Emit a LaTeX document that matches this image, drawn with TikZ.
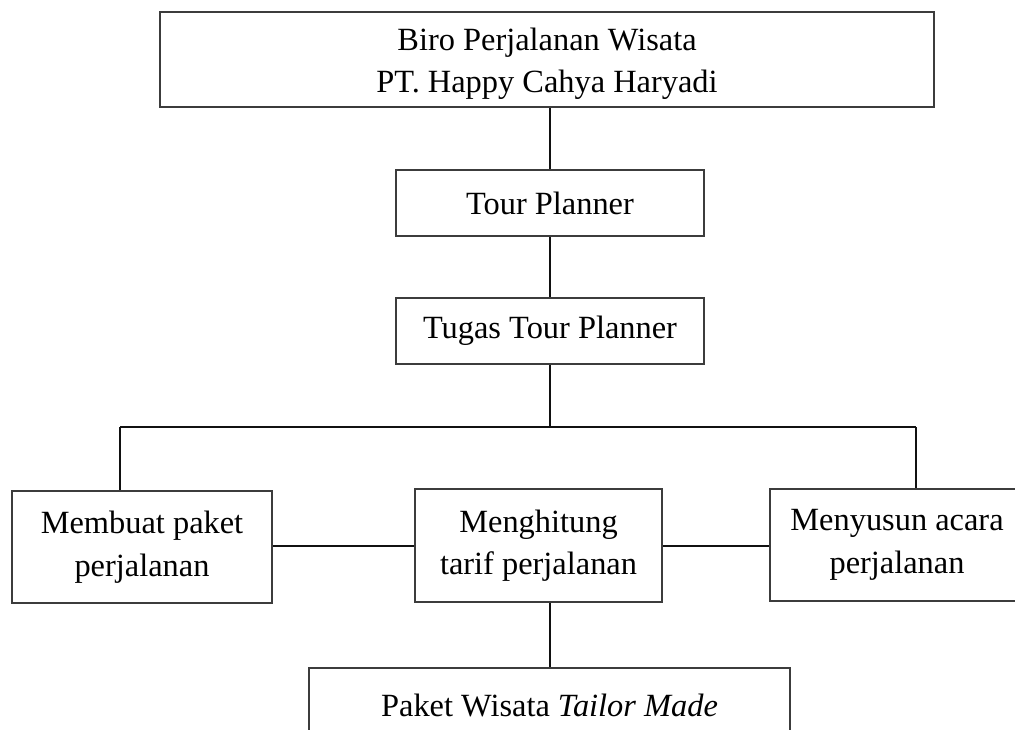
\documentclass[tikz,border=0pt]{standalone}
\usepackage{fontspec}
\setmainfont{Liberation Serif}
\usepackage{tikz}
\usepackage{xcolor}
\usetikzlibrary{positioning,calc}
\definecolor{edge}{HTML}{3C3C3C}
\definecolor{wire}{HTML}{111111}

\begin{document}
\begin{tikzpicture}[x=0.5pt,y=-0.5pt,font=\fontsize{16.2}{21.2}\selectfont,
  box/.style={draw=edge,line width=1pt,align=center,inner sep=0pt},
  w/.style={draw=wire,line width=1pt}]

  \clip (0,0) rectangle (1015,729);

  % top of the chart
  \node[box,minimum width=387pt,minimum height=47.5pt] (biro) at (547,59.5)
    {\rule{0pt}{15.5pt}Biro Perjalanan Wisata\\PT. Happy Cahya Haryadi};
  \node[box,minimum width=154pt,minimum height=33pt] (tp) at (550,203) {Tour Planner};
  \node[box,minimum width=154pt,minimum height=33pt] (tugas) at (550,331) {Tugas Tour Planner};

  % tasks
  \node[box,minimum width=130pt,minimum height=56pt] (buat) at (142,547)
    {Membuat paket\\perjalanan};
  \node[box,minimum width=123.5pt,minimum height=56.5pt] (hitung) at (538.5,545.5)
    {Menghitung\\tarif perjalanan};
  \node[box,minimum width=127pt,minimum height=56pt] (susun) at (897,545)
    {Menyusun acara\\perjalanan};

  % result
  \node[box,minimum width=240.5pt,minimum height=37pt] (paket) at (549.5,705)
    {Paket Wisata \textit{Tailor Made}};

  \coordinate (busL) at (120,427);
  \coordinate (busR) at (916,427);

  \draw[w] (tp.north) -- (tp.north|-biro.south);
  \draw[w] (tp.south) -- (tugas.north);
  \draw[w] (tugas.south) -- (tugas.south|-busL);
  \draw[w] (busL) -- (busR);
  \draw[w] (busL) -- (busL|-buat.north);
  \draw[w] (busR) -- (busR|-susun.north);
  \draw[w] (hitung.west-|buat.east) -- (hitung.west);
  \draw[w] (hitung.east) -- (hitung.east-|susun.west);
  \draw[w] (paket.north) -- (paket.north|-hitung.south);
\end{tikzpicture}
\end{document}
